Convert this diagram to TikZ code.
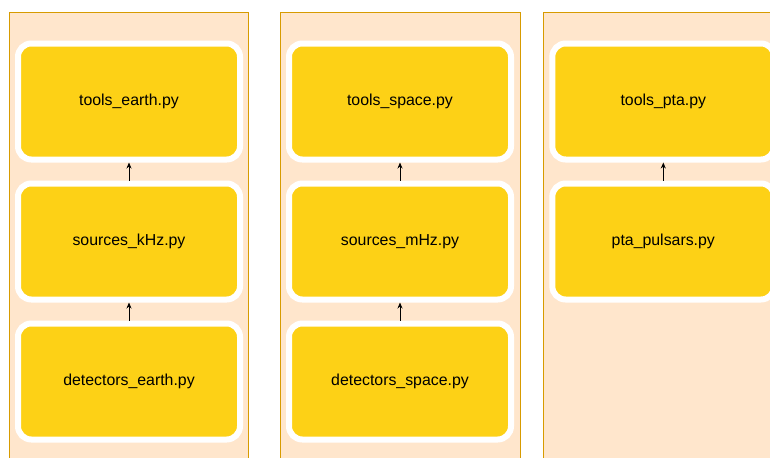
\documentclass[tikz,border=0pt]{standalone}
\usepackage{fontspec}
\setmainfont{Liberation Sans}
\usetikzlibrary{positioning,arrows.meta}
\definecolor{panelfill}{HTML}{FFE6CC}
\definecolor{paneldraw}{HTML}{D79B00}
\definecolor{boxfill}{HTML}{FDD116}

\begin{document}
\begin{tikzpicture}[x=0.75pt,y=-0.75pt,node distance=13.5pt]
       \tikzstyle{panel} = [draw=paneldraw, line width=0.75pt, fill=panelfill];
       \tikzstyle{module} = [rectangle, rounded corners=10pt, draw=white, line width=4.5pt, fill=boxfill,
                             minimum width=166.5pt, minimum height=87pt, font=\fontsize{11.9}{14}\selectfont];
       \tikzstyle{uses} = [-{Stealth[length=4.5pt,width=3.75pt]}, line width=0.75pt];

       \useasboundingbox (0,0) rectangle (770,457);
       \clip (0,0) rectangle (770,457);

       % the three columns
       \draw[panel] (9.3,12.3) rectangle (248.7,480);
       \draw[panel] (280.7,12.3) rectangle (520,480);
       \draw[panel] (543.3,12.3) rectangle (782.7,480);

       \node[module] (toolsearth) at (129,101.5) {tools\_earth.py};
       \node[module, below=of toolsearth] (sourceskhz) {sources\_kHz.py};
       \node[module, below=of sourceskhz] (detectorsearth) {detectors\_earth.py};

       \node[module] (toolsspace) at (400,101.5) {tools\_space.py};
       \node[module, below=of toolsspace] (sourcesmhz) {sources\_mHz.py};
       \node[module, below=of sourcesmhz] (detectorsspace) {detectors\_space.py};

       \node[module] (toolspta) at (663.3,101.5) {tools\_pta.py};
       \node[module, below=of toolspta] (ptapulsars) {pta\_pulsars.py};

       \draw[uses] (sourceskhz) -- (toolsearth);
       \draw[uses] (detectorsearth) -- (sourceskhz);
       \draw[uses] (sourcesmhz) -- (toolsspace);
       \draw[uses] (detectorsspace) -- (sourcesmhz);
       \draw[uses] (ptapulsars) -- (toolspta);
\end{tikzpicture}
\end{document}
